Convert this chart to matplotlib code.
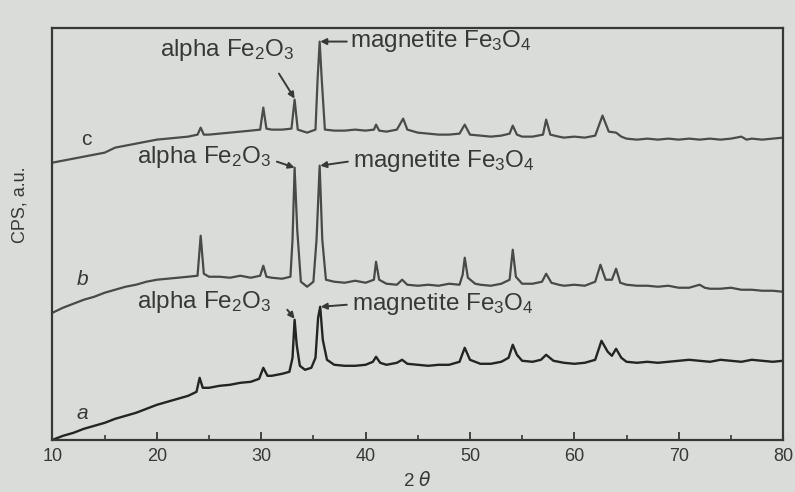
import matplotlib
matplotlib.use("Agg")
import matplotlib.pyplot as plt
from matplotlib.ticker import MultipleLocator

plt.rcParams['font.family'] = ['Liberation Sans', 'DejaVu Sans']
plt.rcParams['mathtext.default'] = 'regular'

# curve points (2-theta, counts in arbitrary units)
a_pts = [(10, 0), (11, 4), (12, 7), (13, 11), (14, 14), (15, 17), (16, 21), (17, 24),
         (18, 27), (19, 31), (20, 35), (21, 38), (22, 41), (23, 44), (23.8, 48),
         (24.1, 62), (24.4, 52), (25, 52), (26, 54), (27, 55), (28, 57), (29, 58),
         (29.8, 61), (30.2, 72), (30.6, 64), (31, 64), (32, 66), (32.7, 68), (33.0, 82),
         (33.2, 120), (33.4, 95), (33.7, 74), (34.2, 70), (34.8, 72), (35.2, 82),
         (35.45, 122), (35.65, 133), (35.9, 100), (36.3, 80), (37, 75), (38, 74), (39, 74),
         (40, 75), (40.7, 78), (41.0, 83), (41.4, 77), (42, 75), (43, 77), (43.5, 80),
         (44, 76), (45, 75), (46, 74), (47, 75), (48, 75), (49, 78), (49.5, 92), (50, 80),
         (51, 76), (52, 76), (53, 78), (53.7, 82), (54.1, 95), (54.5, 85), (55, 79),
         (56, 78), (56.8, 80), (57.3, 85), (58, 79), (59, 77), (60, 76), (61, 77), (62, 80),
         (62.6, 99), (63.2, 88), (63.6, 84), (64.0, 91), (64.5, 82), (65, 78), (66, 77),
         (67, 78), (68, 77), (69, 78), (70, 79), (71, 80), (72, 79), (73, 78), (74, 80),
         (75, 79), (76, 78), (77, 80), (78, 79), (79, 78), (80, 79)]

b_pts = [(10, 127), (11, 132), (12, 136), (13, 140), (14, 143), (15, 147), (16, 150),
         (17, 153), (18, 155), (19, 158), (20, 160), (21, 161), (22, 162), (23, 163),
         (23.9, 164), (24.2, 204), (24.5, 166), (25, 163), (26, 163), (27, 162), (28, 164),
         (29, 162), (29.9, 164), (30.2, 174), (30.5, 163), (31, 162), (32, 161), (32.8, 163),
         (33.0, 200), (33.2, 272), (33.45, 210), (33.8, 158), (34.4, 153), (35.0, 158),
         (35.3, 200), (35.6, 274), (35.85, 200), (36.2, 160), (37, 158), (38, 157),
         (39, 159), (40, 157), (40.8, 160), (41.0, 178), (41.3, 160), (42, 156), (43, 155),
         (43.5, 160), (44, 155), (45, 154), (46, 155), (47, 154), (48, 156), (49, 155),
         (49.3, 165), (49.5, 182), (49.8, 162), (50.5, 156), (51, 155), (52, 154), (53, 156),
         (53.8, 160), (54.1, 190), (54.4, 163), (55, 156), (56, 156), (56.9, 158),
         (57.3, 166), (57.8, 157), (58.5, 155), (59, 154), (60, 155), (61, 154), (62, 158),
         (62.5, 175), (63.0, 160), (63.6, 160), (64.0, 171), (64.4, 157), (65, 155),
         (66, 154), (67, 154), (68, 153), (69, 154), (70, 152), (71, 152), (72, 155),
         (72.5, 152), (73, 151), (74, 151), (75, 152), (76, 150), (77, 150), (78, 149),
         (79, 149), (80, 148)]

c_pts = [(10, 277), (11, 279), (12, 281), (13, 283), (14, 285), (15, 287), (16, 292),
         (17, 294), (18, 296), (19, 298), (20, 300), (21, 301), (22, 302), (23, 303),
         (23.9, 305), (24.2, 312), (24.5, 305), (25, 305), (26, 306), (27, 307), (28, 308),
         (29, 309), (29.9, 310), (30.2, 332), (30.5, 311), (31, 310), (32, 310), (32.9, 311),
         (33.2, 340), (33.5, 310), (34.4, 307), (35.2, 310), (35.4, 360), (35.6, 398),
         (35.8, 360), (36.1, 310), (37, 309), (38, 309), (39, 310), (40, 309), (40.8, 310),
         (41.0, 315), (41.3, 309), (42, 308), (43, 310), (43.6, 321), (44, 310), (45, 307),
         (46, 306), (47, 305), (48, 305), (49, 306), (49.5, 315), (50, 305), (51, 304),
         (52, 303), (53, 304), (53.8, 306), (54.1, 314), (54.5, 305), (55, 303), (56, 303),
         (57, 305), (57.3, 320), (57.7, 305), (58.5, 303), (59, 302), (60, 303), (61, 302),
         (62, 304), (62.7, 324), (63.3, 308), (64, 307), (64.5, 303), (65, 301), (66, 300),
         (67, 301), (68, 300), (69, 301), (70, 300), (71, 301), (72, 300), (73, 301),
         (74, 300), (75, 301), (76, 303), (76.5, 300), (77, 301), (78, 300), (79, 301),
         (80, 302)]

curve_labels = ['a', 'b', 'c']
x_ticks = [10, 20, 30, 40, 50, 60, 70, 80]

bg = '#d9dcd8'
ink = '#373937'

fig = plt.figure(figsize=(7.95, 4.92), dpi=100, facecolor=bg)
ax = fig.add_axes([0.066, 0.106, 0.919, 0.838], facecolor=bg)

for pts, lw, col in [(a_pts, 1.7, '#232523'), (b_pts, 1.6, '#484a48'),
                     (c_pts, 1.6, '#4a4c4a')]:
    xs, ys = zip(*pts)
    ax.plot(xs, ys, color=col, lw=lw)

# curve letters
ax.text(12.9, 26, curve_labels[0], style='italic', fontsize=15, color=ink, ha='center', va='center')
ax.text(12.9, 160, curve_labels[1], style='italic', fontsize=15, color=ink, ha='center', va='center')
ax.text(13.2, 300, curve_labels[2], fontsize=15, color=ink, ha='center', va='center')

alpha = r'alpha Fe$_2$O$_3$'
magn = r'magnetite Fe$_3$O$_4$'
arrow = dict(arrowstyle='-|>', color=ink, lw=1.4, mutation_scale=9, shrinkA=0, shrinkB=0)
tkw = dict(fontsize=17.5, color=ink, va='center', ha='left')

# c
ax.text(20.3, 390, alpha, **tkw)
ax.annotate('', xy=(33.2, 341), xytext=(31.7, 366), arrowprops=arrow)
ax.annotate('', xy=(35.65, 398), xytext=(38.2, 398), arrowprops=arrow)
ax.text(38.5, 399, magn, **tkw)
# b
ax.text(18.1, 283, alpha, **tkw)
ax.annotate('', xy=(33.2, 272), xytext=(31.5, 278), arrowprops=arrow)
ax.annotate('', xy=(35.65, 274), xytext=(38.3, 278), arrowprops=arrow)
ax.text(38.8, 279, magn, **tkw)
# a
ax.text(18.1, 138, alpha, **tkw)
ax.annotate('', xy=(33.2, 121), xytext=(32.5, 130), arrowprops=arrow)
ax.annotate('', xy=(35.7, 133), xytext=(38.2, 135), arrowprops=arrow)
ax.text(38.7, 136, magn, **tkw)

ax.set_xlim(10, 80)
ax.set_ylim(0, 412)
ax.set_xticks(x_ticks)
ax.xaxis.set_minor_locator(MultipleLocator(5))
ax.tick_params(axis='x', which='major', direction='in', length=6, width=1.3,
               colors=ink, labelsize=13, pad=6)
ax.tick_params(axis='x', which='minor', direction='in', length=3.5, width=1.2, colors=ink)
ax.set_yticks([])
for s in ax.spines.values():
    s.set_color(ink)
    s.set_linewidth(1.6)

ax.set_xlabel(r'2 $\mathit{\theta}$', fontsize=13.5, color=ink, labelpad=4)
ax.set_ylabel('CPS, a.u.', fontsize=13, color=ink)
ax.yaxis.set_label_coords(-0.033, 0.57)

fig.savefig('out.png', dpi=100, facecolor=bg)
